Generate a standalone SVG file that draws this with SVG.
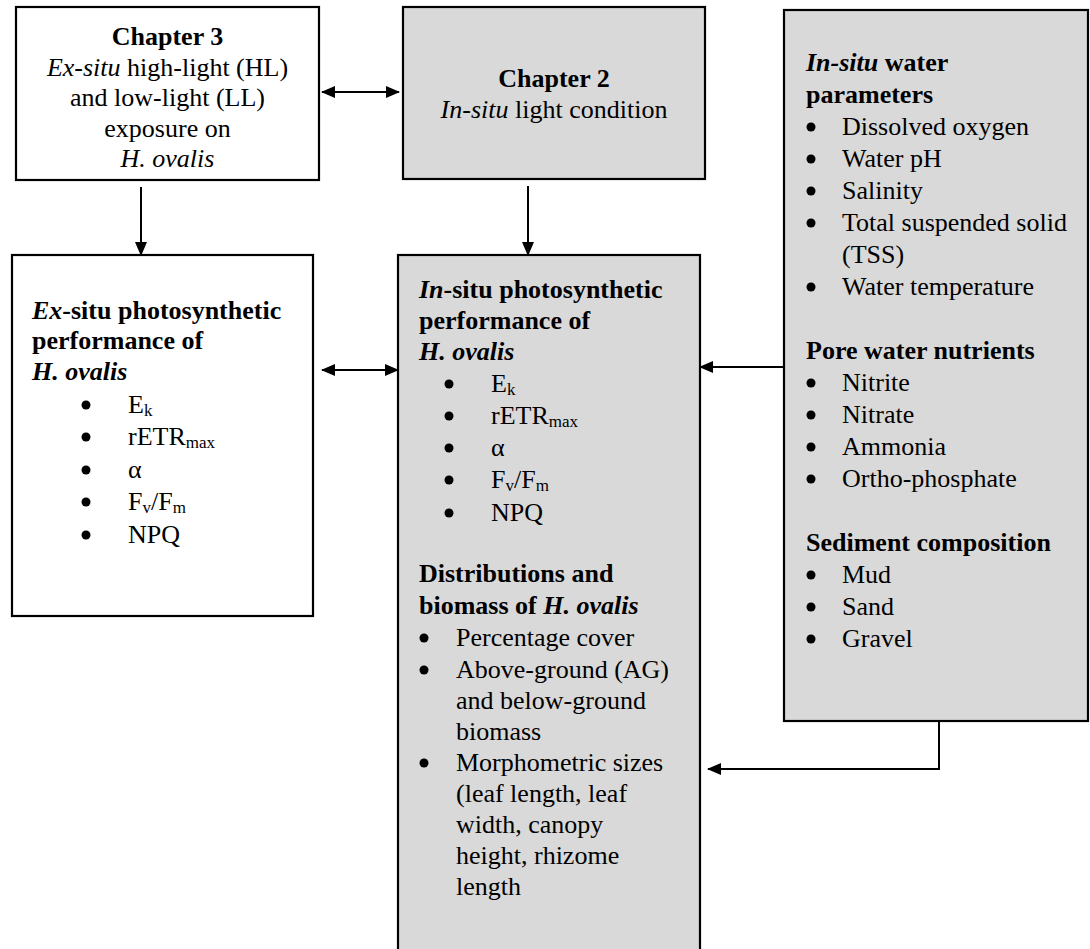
<svg xmlns="http://www.w3.org/2000/svg" width="1090" height="949" viewBox="0 0 1090 949">
<defs>
<style>
.box{stroke:#000;stroke-width:2.2}
.w{fill:#fff}
.g{fill:#d9d9d9}
text{font-family:"Liberation Serif","Times New Roman",serif;font-size:26px;fill:#000}
.b{font-weight:bold}
.i{font-style:italic}
.c{text-anchor:middle}
.sub{font-size:17px}
.bul{fill:#000}
.con{stroke:#000;stroke-width:2;fill:none}
</style>
<marker id="ah" viewBox="0 0 14 12" refX="13" refY="6" markerWidth="14" markerHeight="12" markerUnits="userSpaceOnUse" orient="auto-start-reverse">
<path d="M0,0 L14,6 L0,12 Z" fill="#000"/>
</marker>
</defs>
<rect width="1090" height="949" fill="#fff"/>

<g id="connectors">
<line class="con" x1="322" y1="92" x2="399" y2="92" marker-start="url(#ah)" marker-end="url(#ah)"/>
<line class="con" x1="141" y1="187" x2="141" y2="255" marker-end="url(#ah)"/>
<line class="con" x1="528" y1="186" x2="528" y2="255" marker-end="url(#ah)"/>
<line class="con" x1="322" y1="370" x2="398" y2="370" marker-start="url(#ah)" marker-end="url(#ah)"/>
<line class="con" x1="784" y1="367" x2="700" y2="367" marker-end="url(#ah)"/>
<polyline class="con" points="939,721 939,769 708,769" marker-end="url(#ah)"/>
</g>

<g id="chapter3">
<rect class="box w" x="16" y="7" width="303" height="173"/>
<text class="c b" x="167.5" y="45">Chapter 3</text>
<text class="c" x="167.5" y="75.5"><tspan class="i">Ex-situ</tspan> high-light (HL)</text>
<text class="c" x="167.5" y="106">and low-light (LL)</text>
<text class="c" x="167.5" y="136.5">exposure on</text>
<text class="c i" x="167.5" y="167">H. ovalis</text>
</g>

<g id="chapter2">
<rect class="box g" x="403" y="7" width="302" height="172"/>
<text class="c b" x="554" y="87">Chapter 2</text>
<text class="c" x="554" y="118"><tspan class="i">In-situ</tspan> light condition</text>
</g>

<g id="water">
<rect class="box g" x="784" y="10" width="304" height="711"/>
<text class="b" x="806" y="71"><tspan class="i">In-situ</tspan> water</text>
<text class="b" x="806" y="103">parameters</text>
<circle class="bul" cx="811" cy="127" r="4.5"/><text x="842" y="135">Dissolved oxygen</text>
<circle class="bul" cx="811" cy="159" r="4.5"/><text x="842" y="167">Water pH</text>
<circle class="bul" cx="811" cy="191" r="4.5"/><text x="842" y="199">Salinity</text>
<circle class="bul" cx="811" cy="223" r="4.5"/><text x="842" y="231">Total suspended solid</text>
<text x="842" y="263">(TSS)</text>
<circle class="bul" cx="811" cy="287" r="4.5"/><text x="842" y="295">Water temperature</text>
<text class="b" x="806" y="359">Pore water nutrients</text>
<circle class="bul" cx="811" cy="383" r="4.5"/><text x="842" y="391">Nitrite</text>
<circle class="bul" cx="811" cy="415" r="4.5"/><text x="842" y="423">Nitrate</text>
<circle class="bul" cx="811" cy="447" r="4.5"/><text x="842" y="455">Ammonia</text>
<circle class="bul" cx="811" cy="479" r="4.5"/><text x="842" y="487">Ortho-phosphate</text>
<text class="b" x="806" y="551">Sediment composition</text>
<circle class="bul" cx="811" cy="575" r="4.5"/><text x="842" y="583">Mud</text>
<circle class="bul" cx="811" cy="607" r="4.5"/><text x="842" y="615">Sand</text>
<circle class="bul" cx="811" cy="639" r="4.5"/><text x="842" y="647">Gravel</text>
</g>

<g id="exsitu">
<rect class="box w" x="12" y="255" width="301" height="361"/>
<text class="b" x="32" y="319"><tspan class="i">Ex</tspan>-situ photosynthetic</text>
<text class="b" x="32" y="349">performance of</text>
<text class="b i" x="32" y="380">H. ovalis</text>
<circle class="bul" cx="86" cy="405" r="4.5"/><text x="128" y="413">E<tspan class="sub" dy="3">k</tspan></text>
<circle class="bul" cx="86" cy="437" r="4.5"/><text x="128" y="445">rETR<tspan class="sub" dy="3">max</tspan></text>
<circle class="bul" cx="86" cy="470" r="4.5"/><text x="128" y="478">α</text>
<circle class="bul" cx="86" cy="502" r="4.5"/><text x="128" y="510">F<tspan class="sub" dy="3">v</tspan><tspan dy="-3">/F</tspan><tspan class="sub" dy="3">m</tspan></text>
<circle class="bul" cx="86" cy="535" r="4.5"/><text x="128" y="543">NPQ</text>
</g>

<g id="insitu">
<rect class="box g" x="398" y="255" width="302" height="710"/>
<text class="b" x="419" y="298"><tspan class="i">In</tspan>-situ photosynthetic</text>
<text class="b" x="419" y="329">performance of</text>
<text class="b i" x="419" y="360">H. ovalis</text>
<circle class="bul" cx="449" cy="384" r="4.5"/><text x="491" y="392">E<tspan class="sub" dy="3">k</tspan></text>
<circle class="bul" cx="449" cy="416" r="4.5"/><text x="491" y="424">rETR<tspan class="sub" dy="3">max</tspan></text>
<circle class="bul" cx="449" cy="448" r="4.5"/><text x="491" y="456">α</text>
<circle class="bul" cx="449" cy="480" r="4.5"/><text x="491" y="488">F<tspan class="sub" dy="3">v</tspan><tspan dy="-3">/F</tspan><tspan class="sub" dy="3">m</tspan></text>
<circle class="bul" cx="449" cy="513" r="4.5"/><text x="491" y="521">NPQ</text>
<text class="b" x="419" y="582">Distributions and</text>
<text class="b" x="419" y="614">biomass of <tspan class="i">H. ovalis</tspan></text>
<circle class="bul" cx="424" cy="638" r="4.5"/><text x="456" y="646">Percentage cover</text>
<circle class="bul" cx="424" cy="670" r="4.5"/><text x="456" y="678">Above-ground (AG)</text>
<text x="456" y="709">and below-ground</text>
<text x="456" y="740">biomass</text>
<circle class="bul" cx="424" cy="763" r="4.5"/><text x="456" y="771">Morphometric sizes</text>
<text x="456" y="802">(leaf length, leaf</text>
<text x="456" y="833">width, canopy</text>
<text x="456" y="864">height, rhizome</text>
<text x="456" y="895">length</text>
</g>
</svg>
